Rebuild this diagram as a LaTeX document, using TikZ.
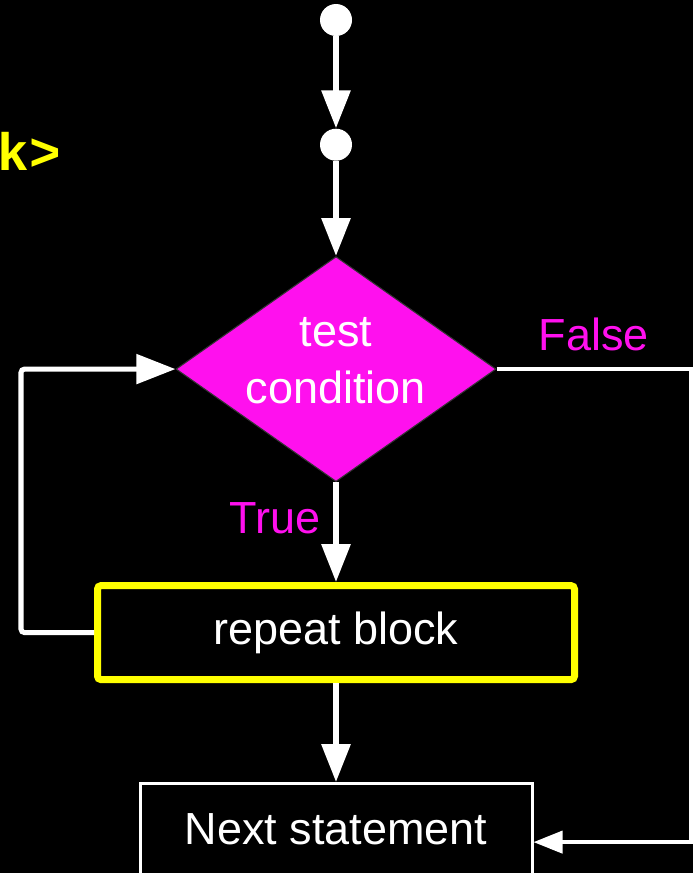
\documentclass[tikz,border=0pt]{standalone}
\usepackage{fontspec}
\setmainfont{Liberation Sans}
\newfontfamily\codefont{Liberation Mono}
\usetikzlibrary{
	positioning,
	arrows.meta,
	shapes.geometric
}
\definecolor{flowpink}{RGB}{255,16,238}
\definecolor{codeyellow}{RGB}{255,255,0}

\begin{document}
\begin{tikzpicture}[
			node distance=2cm,
			font=\fontsize{25.6pt}{32.4pt}\selectfont,
			dot/.style={
				circle,
				fill=white,
				minimum size=0.64cm,
				inner sep=0pt
			},
			decision/.style={
				diamond,
				draw=black!80,
				line width=0.6pt,
				fill=flowpink,
				text=white,
				aspect=1.42,
				minimum width=6.4cm,
				minimum height=4.5cm,
				inner sep=-0.3cm,
				text depth=0.34cm,
				align=center
			},
			block/.style={
				draw=codeyellow,
				line width=0.14cm,
				rounded corners=2pt,
				text=white,
				minimum width=9.54cm,
				minimum height=1.88cm
			},
			plain/.style={
				draw=white,
				line width=0.06cm,
				text=white,
				minimum width=7.84cm,
				minimum height=1.82cm
			},
			tag/.style={text=flowpink},
			arrow/.style={
				draw=white,
				line width=0.12cm,
				-{Triangle[width=0.56cm,length=0.76cm]}
			},
			loopline/.style={
				draw=white,
				line width=0.1cm,
				rounded corners=2pt,
				-{Triangle[width=0.58cm,length=0.78cm]}
			},
			exitline/.style={
				draw=white,
				line width=0.08cm,
				-{Triangle[width=0.44cm,length=0.58cm]}
			}
			]
			
			% page and background
			\useasboundingbox (0,0) rectangle (13.86,-17.46);
			\fill[black] (0,0) rectangle (13.86,-17.46);
			
			% tail of the code line
			\node[anchor=base east,inner sep=0pt,text=codeyellow,
			font=\codefont\bfseries\fontsize{30pt}{32pt}\selectfont] (code)
			at (1.22,-3.40) {k>};
			
			\node[dot] (entry) at (6.72,-0.40) {};
			
			\node[dot,below=1.84cm of entry] (join) {};
			
			\node[decision,below=1.9cm of join] (cond)
			{test\\condition};
			
			\node[block,below=of cond] (body)
			{repeat block};
			
			\node[plain,below=1.98cm of body] (next)
			{Next statement};
			
			\draw[arrow] (entry)--(join);
			\draw[arrow] (join)--(cond);
			\draw[arrow] (cond)--node[tag,left,pos=0.36,xshift=-0.14cm]{True}(body);
			\draw[arrow] (body)--(next);
			
			% back to the test
			\draw[loopline] (body.west)--++(-1.46,0)|-(cond.west);
			
			% leaving the loop
			\draw[exitline] (cond.east)--node[tag,above,pos=0.5,yshift=0.2cm]{False}++(3.88,0)
			|-([yshift=-0.26cm]next.east);
			
		\end{tikzpicture}
\end{document}
